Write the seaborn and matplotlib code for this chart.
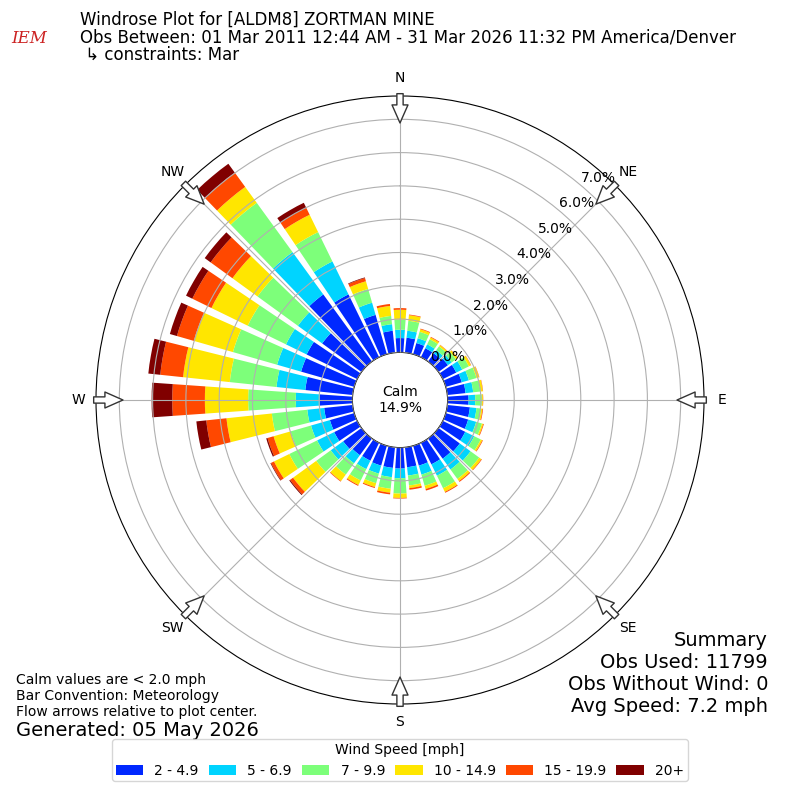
import numpy as np
import matplotlib
matplotlib.use("Agg")
import matplotlib.pyplot as plt
import seaborn as sns

# wind rose percentages by direction (deg, from north) and speed bin
directions = list(range(0, 360, 10))
speed_labels = ["2 - 4.9", "5 - 6.9", "7 - 9.9", "10 - 14.9", "15 - 19.9", "20+"]

pct_2_5 = [0.43, 0.45, 0.35, 0.30, 0.30, 0.35, 0.45, 0.50, 0.55, 0.63, 0.68, 0.70,
           0.75, 0.79, 0.75, 0.72, 0.62, 0.60, 0.63, 0.62, 0.62, 0.60, 0.62, 0.68,
           0.77, 0.76, 0.86, 0.98, 1.43, 1.66, 1.69, 1.46, 2.49, 2.10, 1.23, 0.66]
pct_5_7 = [0.25, 0.21, 0.15, 0.13, 0.12, 0.14, 0.20, 0.22, 0.23, 0.20, 0.20, 0.25,
           0.30, 0.40, 0.40, 0.38, 0.28, 0.25, 0.29, 0.28, 0.25, 0.28, 0.30, 0.46,
           0.57, 0.59, 0.51, 0.72, 0.87, 0.75, 0.69, 0.90, 1.57, 1.10, 0.38, 0.20]
pct_7_10 = [0.30, 0.30, 0.20, 0.17, 0.14, 0.16, 0.22, 0.24, 0.22, 0.20, 0.14, 0.18,
            0.22, 0.32, 0.35, 0.42, 0.35, 0.30, 0.46, 0.35, 0.30, 0.38, 0.42, 0.54,
            0.93, 0.64, 1.07, 1.43, 1.41, 1.38, 1.28, 1.50, 1.83, 0.98, 0.43, 0.25]
pct_10_15 = [0.30, 0.17, 0.08, 0.06, 0.05, 0.06, 0.07, 0.08, 0.07, 0.03, 0.04, 0.04,
             0.05, 0.08, 0.08, 0.12, 0.10, 0.08, 0.13, 0.12, 0.12, 0.15, 0.24, 0.86,
             0.51, 0.53, 1.37, 1.30, 1.41, 1.22, 1.21, 0.93, 0.59, 0.58, 0.24, 0.30]
pct_15_20 = [0.05, 0.02, 0.02, 0.02, 0.01, 0.01, 0.01, 0.01, 0.01, 0.01, 0.02, 0.02,
             0.02, 0.02, 0.03, 0.03, 0.05, 0.05, 0.02, 0.05, 0.03, 0.03, 0.02, 0.11,
             0.10, 0.19, 0.61, 0.98, 0.69, 0.53, 0.64, 0.81, 0.53, 0.23, 0.10, 0.06]
pct_20_up = [0.00, 0.00, 0.00, 0.00, 0.00, 0.00, 0.00, 0.00, 0.00, 0.00, 0.00, 0.00,
             0.00, 0.00, 0.00, 0.00, 0.00, 0.00, 0.00, 0.00, 0.00, 0.00, 0.00, 0.03,
             0.02, 0.04, 0.30, 0.62, 0.36, 0.22, 0.21, 0.22, 0.33, 0.17, 0.02, 0.00]

calm_pct = 14.9
ring_ticks = [0, 1, 2, 3, 4, 5, 6, 7]
compass_angles = [0, 45, 90, 135, 180, 225, 270, 315]
compass_labels = ["N", "NE", "E", "SE", "S", "SW", "W", "NW"]

series = [pct_2_5, pct_5_7, pct_7_10, pct_10_15, pct_15_20, pct_20_up]
colors = sns.color_palette(["#0028ff", "#00d4ff", "#7dff7a", "#ffe600", "#ff4800", "#800000"])

sns.set_style("white", {"text.color": "black", "xtick.color": "black",
                        "ytick.color": "black", "axes.labelcolor": "black",
                        "axes.edgecolor": "black"})
plt.rcParams["font.family"] = ["DejaVu Sans"]

fig = plt.figure(figsize=(8, 8), dpi=100)
ax = fig.add_axes([0.12, 0.12, 0.76, 0.76], projection="polar")
ax.set_theta_zero_location("N")
ax.set_theta_direction(-1)
ax.set_rorigin(-1.43)
ax.set_ylim(0, 7.7)
ax.set_axisbelow(False)

theta = np.deg2rad(directions)
width = np.deg2rad(10) * 0.8
bottom = np.zeros(len(directions))
for vals, col, lab in zip(series, colors, speed_labels):
    vals = np.array(vals)
    ax.bar(theta, vals, width=width, bottom=bottom, color=col, label=lab,
           linewidth=0, zorder=1)
    bottom += vals

ax.set_thetagrids(compass_angles, compass_labels)
ax.set_rgrids(ring_ticks, labels=[f"{t:.1f}%" for t in ring_ticks], angle=40)
ax.grid(True, color="#b0b0b0", linewidth=0.8)
ax.tick_params(axis="x", labelsize=10, pad=2.5)
ax.tick_params(axis="y", labelsize=10)
for sp in ax.spines.values():
    sp.set_color("black")
    sp.set_linewidth(0.8)

ax.text(0.5, 0.5, f"Calm\n{calm_pct:.1f}%", transform=ax.transAxes,
        ha="center", va="center", fontsize=10)

# flow arrows at the compass points
for ang in compass_angles:
    ax.annotate("", xy=(np.deg2rad(ang), 6.89), xytext=(np.deg2rad(ang), 7.77),
                arrowprops=dict(arrowstyle="simple,head_length=1.3,head_width=1.15,tail_width=0.45",
                                fc="white", ec="#333333", lw=1, shrinkA=0, shrinkB=0,
                                mutation_scale=10),
                annotation_clip=False, zorder=5)

# header
fig.text(0.1, 0.975, "Windrose Plot for [ALDM8] ZORTMAN MINE", fontsize=12, va="center")
fig.text(0.1, 0.9525, "Obs Between: 01 Mar 2011 12:44 AM - 31 Mar 2026 11:32 PM America/Denver",
         fontsize=12, va="center")
fig.text(0.1, 0.931, " \u21b3 constraints: Mar", fontsize=12, va="center")
fig.text(0.036, 0.952, "IEM", fontsize=12, color="#cc2222", style="italic",
         family="DejaVu Serif", ha="center", va="center")

# footer notes
fig.text(0.02, 0.15, "Calm values are < 2.0 mph", fontsize=10, va="center")
fig.text(0.02, 0.13, "Bar Convention: Meteorology", fontsize=10, va="center")
fig.text(0.02, 0.11, "Flow arrows relative to plot center.", fontsize=10, va="center")
fig.text(0.02, 0.0875, "Generated: 05 May 2026", fontsize=14, va="center")

fig.text(0.96, 0.2, "Summary", fontsize=14, ha="right", va="center")
fig.text(0.96, 0.1725, "Obs Used: 11799", fontsize=14, ha="right", va="center")
fig.text(0.96, 0.145, "Obs Without Wind: 0", fontsize=14, ha="right", va="center")
fig.text(0.96, 0.1175, "Avg Speed: 7.2 mph", fontsize=14, ha="right", va="center")

handles, labels = ax.get_legend_handles_labels()
fig.legend(handles, labels, loc="lower center", bbox_to_anchor=(0.5, 0.015), ncol=6,
           title="Wind Speed [mph]", fontsize=10, title_fontsize=10, frameon=True,
           columnspacing=0.7, borderpad=0.25)

fig.savefig("out.png", dpi=100)
